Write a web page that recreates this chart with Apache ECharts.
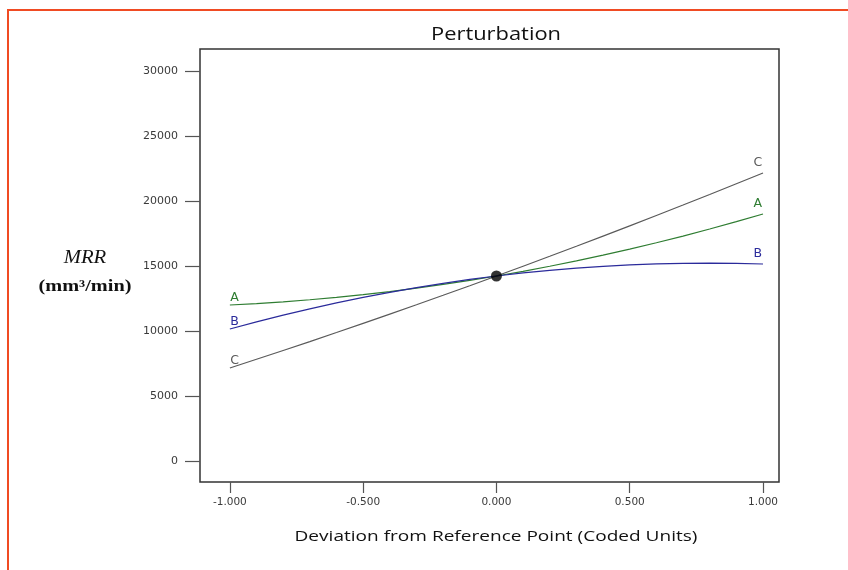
<!DOCTYPE html>
<html>
<head>
<meta charset="utf-8">
<script src="https://cdn.jsdelivr.net/npm/echarts@6/dist/echarts.min.js"></script>
<style>html,body{margin:0;padding:0;background:#fff}#c{width:848px;height:570px}</style>
</head>
<body>
<div id="c"></div>
<script>
// Deviation from reference point (coded units)
const deviation = [-1, -0.9, -0.8, -0.7, -0.6, -0.5, -0.4, -0.3, -0.2, -0.1, 0, 0.1, 0.2, 0.3, 0.4, 0.5, 0.6, 0.7, 0.8, 0.9, 1];
// MRR traces for factors A, B, C
const seriesA = [12000, 12109, 12243, 12402, 12587, 12798, 13033, 13294, 13581, 13893, 14230, 14592, 14981, 15394, 15833, 16298, 16787, 17302, 17843, 18409, 19000];
const seriesB = [10154, 10703, 11221, 11708, 12163, 12586, 12978, 13338, 13667, 13964, 14230, 14464, 14667, 14838, 14978, 15086, 15163, 15208, 15221, 15203, 15154];
const seriesC = [7154, 7823, 8501, 9188, 9883, 10586, 11298, 12018, 12747, 13484, 14230, 14984, 15747, 16518, 17298, 18086, 18883, 19688, 20501, 21323, 22154];
const seriesNames = ['A', 'B', 'C'];
const referencePoint = [0, 14230];
const xTicks = [-1, -0.5, 0, 0.5, 1];
const yTicks = [0, 5000, 10000, 15000, 20000, 25000, 30000];

const colors = {A: '#2f7d32', B: '#2b2b9b', C: '#5a5a5a'};
const labelFont = 'DejaVu Sans';

function mk(name, vals) {
  const data = deviation.map((x, i) => {
    const item = {value: [x, vals[i]]};
    if (i === 0) {
      item.label = {show: true, position: [1, -13]};
    } else if (i === vals.length - 1) {
      item.label = {show: true, position: [-9, -16]};
    }
    return item;
  });
  return {
    name: name, type: 'line', data: data, showSymbol: true, symbol: 'circle', symbolSize: 1,
    itemStyle: {color: 'rgba(0,0,0,0)', borderWidth: 0},
    lineStyle: {color: colors[name], width: 1.2},
    label: {show: false, formatter: '{a}', color: colors[name], fontFamily: labelFont, fontSize: 12.5},
    labelLayout: {hideOverlap: false},
    silent: true, z: name === 'C' ? 2 : 3
  };
}

const chart = echarts.init(document.getElementById('c'), null, {renderer: 'canvas'});
chart.setOption({
  animation: false,
  backgroundColor: '#fff',
  grid: {left: 200, right: 69, top: 49, bottom: 88, show: true, borderColor: '#333', borderWidth: 1.5, backgroundColor: 'transparent'},
  xAxis: {
    type: 'value', min: -1.112, max: 1.060,
    axisLine: {show: false, onZero: false},
    splitLine: {show: false},
    axisTick: {show: true, inside: false, customValues: xTicks, length: 11, lineStyle: {color: '#555', width: 1.2}},
    axisLabel: {customValues: xTicks, margin: 15, color: '#3a3a3a', fontFamily: labelFont, fontSize: 10.5,
      formatter: v => v.toFixed(3)}
  },
  yAxis: {
    type: 'value', min: -1615, max: 31692,
    axisLine: {show: false, onZero: false},
    splitLine: {show: false},
    axisTick: {show: true, inside: false, customValues: yTicks, length: 15, lineStyle: {color: '#555', width: 1.2}},
    axisLabel: {customValues: yTicks, margin: 22, color: '#3a3a3a', fontFamily: labelFont, fontSize: 11,
      formatter: v => String(v)}
  },
  series: [
    mk('C', seriesC), mk('A', seriesA), mk('B', seriesB),
    {type: 'scatter', data: [referencePoint], symbol: 'circle', symbolSize: 11, itemStyle: {color: '#000'}, z: 5, silent: true}
  ],
  graphic: [
    {type: 'rect', shape: {x: 8, y: 10, width: 900, height: 700}, style: {fill: 'none', stroke: '#f04b23', lineWidth: 2}, silent: true},
    {type: 'text', x: 496, y: 35, scaleX: 1.25, style: {text: 'Perturbation', font: '17.5px "Open Sans"', fill: '#111', textAlign: 'center', textVerticalAlign: 'middle'}},
    {type: 'text', x: 496, y: 537, scaleX: 1.27, style: {text: 'Deviation from Reference Point (Coded Units)', font: '15px "Open Sans"', fill: '#111', textAlign: 'center', textVerticalAlign: 'middle'}},
    {type: 'text', x: 85, y: 258, scaleX: 1.15, style: {text: 'MRR', font: 'italic 18px "Liberation Serif"', fill: '#111', textAlign: 'center', textVerticalAlign: 'middle'}},
    {type: 'text', x: 85, y: 287, scaleX: 1.27, style: {text: '(mm³/min)', font: 'bold 16px "Liberation Serif"', fill: '#111', textAlign: 'center', textVerticalAlign: 'middle'}}
  ]
});
</script>
</body>
</html>
